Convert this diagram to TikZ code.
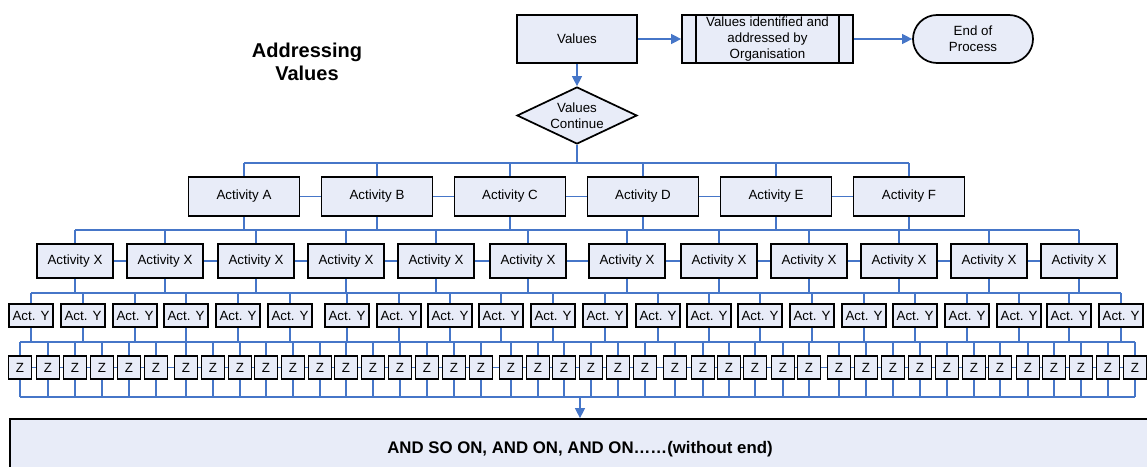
\documentclass[tikz,border=0pt]{standalone}
\usepackage{fontspec}
\setmainfont{Liberation Sans}
\usetikzlibrary{arrows.meta, positioning, shapes.geometric}
\definecolor{boxfill}{RGB}{232,236,248}
\definecolor{linkblue}{RGB}{70,118,200}
\tikzset{
    box/.style={draw=black, line width=1.3pt, fill=boxfill, rectangle, inner sep=0pt,
        align=center, font=\fontsize{10}{11.7}\selectfont},
    link/.style={draw=linkblue, line width=1pt},
    arr/.style={link, -{Triangle[length=7.5pt,width=7.5pt]}},
}

\begin{document}
\begin{tikzpicture}[x=0.75pt, y=-0.75pt]
    \clip (0,0) rectangle (1147,467);
    % 标题
    \node[font=\bfseries\fontsize{15}{17.25}\selectfont, align=center] (title) at (307,61.5) {Addressing\\Values};
    % 顶部流程
    \node[box, minimum width=90pt, minimum height=36pt] (val) at (577,39) {Values};
    \node[box, minimum width=128.25pt, minimum height=36pt] (proc) at (767.5,39) {Values identified and\\addressed by\\Organisation};
    \draw[line width=1.3pt] ([xshift=11.25pt]proc.north west) -- ([xshift=11.25pt]proc.south west);
    \draw[line width=1.3pt] ([xshift=-11.25pt]proc.north east) -- ([xshift=-11.25pt]proc.south east);
    \node[box, minimum width=90pt, minimum height=36pt, rounded corners=18pt] (endp) at (973,39) {End of\\Process};
    \node[box, diamond, aspect=2, minimum width=90pt, minimum height=42.75pt] (cont) at (577,115.5) {Values\\Continue};
    \draw[arr] (val) -- (proc);
    \draw[arr] (proc) -- (endp);
    \draw[arr] (val) -- (cont);
    % 第一层: Activity A-F
    \foreach \l [count=\i] in {A,B,C,D,E,F} {
        \node[box, minimum width=83.25pt, minimum height=29.25pt] (A\i) at (111+133*\i,196.5) {Activity \l};
    }
    \coordinate (busA) at (0,163);
    \draw[link] (cont.south) -- (cont.south |- busA);
    \draw[link] (A1.north |- busA) -- (A6.north |- busA);
    \foreach \i in {1,...,6} {
        \draw[link] (A\i.north) -- (A\i.north |- busA);
    }
    \foreach \i [evaluate=\i as \j using int(\i+1)] in {1,...,5} {
        \draw[link] (A\i.east) -- (A\j.west);
    }
    % 第二层: Activity X
    \foreach \x [count=\i] in {75,165,256,346,436,528,627,719,809,899,989,1079} {
        \node[box, minimum width=57pt, minimum height=25.5pt] (X\i) at (\x,261) {Activity X};
    }
    \coordinate (busX) at (0,230);
    \draw[link] (X1.north |- busX) -- (X12.north |- busX);
    \foreach \i in {1,...,6} {
        \draw[link] (A\i.south) -- (A\i.south |- busX);
    }
    \foreach \i in {1,...,12} {
        \draw[link] (X\i.north) -- (X\i.north |- busX);
    }
    \foreach \i [evaluate=\i as \j using int(\i+1)] in {1,...,11} {
        \draw[link] (X\i.east) -- (X\j.west);
    }
    % 第三层: Act. Y
    \foreach \x [count=\i] in {31,83,135,186,238,290,347,399,450,501,553,605,658,709,760,812,864,915,967,1019,1069,1121} {
        \node[box, minimum width=33pt, minimum height=17.25pt] (Y\i) at (\x,315.5) {Act. Y};
    }
    \coordinate (busY) at (0,293);
    \draw[link] (Y1.north |- busY) -- (Y22.north |- busY);
    \foreach \i in {1,...,12} {
        \draw[link] (X\i.south) -- (X\i.south |- busY);
    }
    \foreach \i in {1,...,22} {
        \draw[link] (Y\i.north) -- (Y\i.north |- busY);
    }
    % 第四层: Z
    \foreach \x [count=\i] in {20,48,75,102,129,156,186,213,240,266,293,320,346,373,400,427,454,481,511,538,564,591,618,645,675,703,729,755,783,809,839,866,893,920,947,974,1000,1028,1054,1081,1108,1135} {
        \node[box, minimum width=17.25pt, minimum height=17.25pt] (Z\i) at (\x,367.5) {Z};
    }
    \coordinate (busZ) at (0,342);
    \coordinate (busB) at (0,397);
    \draw[link] (Z1.north |- busZ) -- (Z42.north |- busZ);
    \draw[link] (Z1.south |- busB) -- (Z42.south |- busB);
    \foreach \i in {1,...,22} {
        \draw[link] (Y\i.south) -- (Y\i.south |- busZ);
    }
    \foreach \i in {1,...,42} {
        \draw[link] (Z\i.north) -- (Z\i.north |- busZ);
        \draw[link] (Z\i.south) -- (Z\i.south |- busB);
    }
    \foreach \i [evaluate=\i as \j using int(\i+1)] in {1,...,41} {
        \draw[link] (Z\i.east) -- (Z\j.west);
    }
    % 底部
    \node[box, minimum width=855pt, minimum height=45pt, font=\bfseries\fontsize{12.6}{14}\selectfont] (more) at (580,449) {AND SO ON, AND ON, AND ON……(without end)};
    \coordinate (zout) at (580,397);
    \draw[arr] (zout) -- (more.north);
\end{tikzpicture}
\end{document}
